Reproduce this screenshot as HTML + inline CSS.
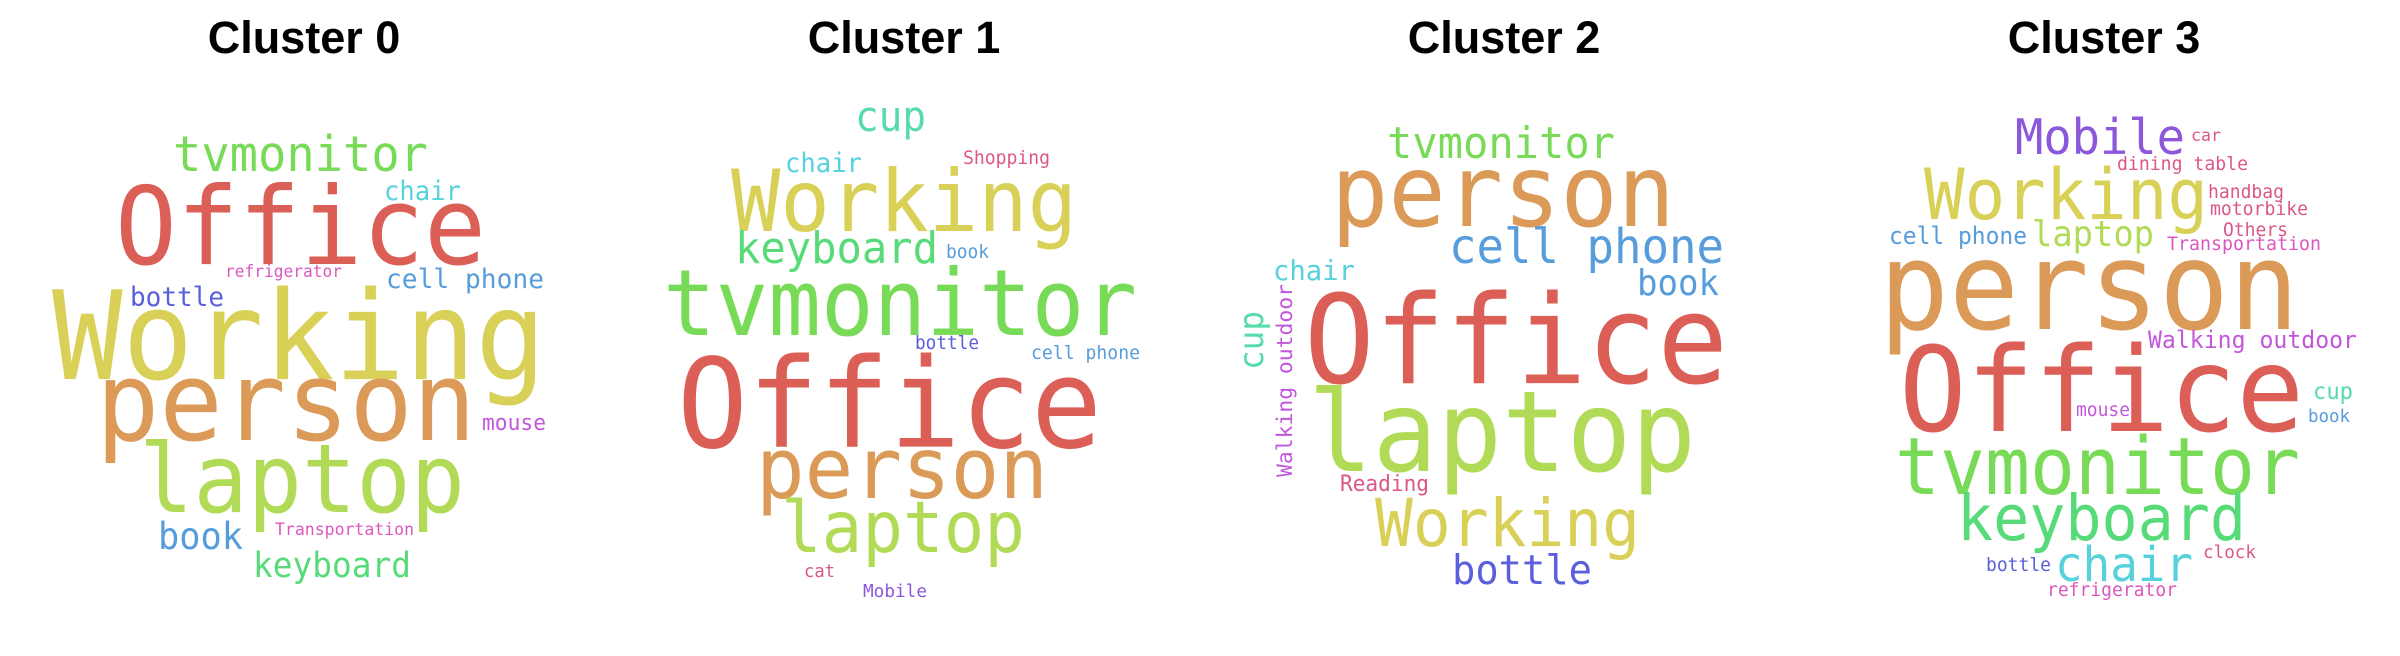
<!DOCTYPE html>
<html><head><meta charset="utf-8"><style>
html,body{margin:0;padding:0;background:#fff;}
svg{display:block;}
.t{font-family:"Liberation Sans",Arial,sans-serif;font-weight:bold;font-size:45px;fill:#000;text-anchor:middle;}
.w{font-family:"DejaVu Sans Mono","Liberation Mono",monospace;}
</style></head><body>
<svg width="2400" height="656" viewBox="0 0 2400 656" xmlns="http://www.w3.org/2000/svg">
<text class="t" x="304" y="53">Cluster 0</text>
<text class="t" x="904" y="53">Cluster 1</text>
<text class="t" x="1504" y="53">Cluster 2</text>
<text class="t" x="2104" y="53">Cluster 3</text>

<g class="w" transform="translate(0,0)">
<text x="173" y="171" font-size="49" fill="#78db57" textLength="255" lengthAdjust="spacingAndGlyphs">tvmonitor</text>
<text x="115" y="264" font-size="108" fill="#dc5f57" textLength="371" lengthAdjust="spacingAndGlyphs">Office</text>
<text x="384" y="200" font-size="27" fill="#57d1db" textLength="77" lengthAdjust="spacingAndGlyphs">chair</text>
<text x="225" y="277" font-size="17" fill="#db57bf" textLength="117" lengthAdjust="spacingAndGlyphs">refrigerator</text>
<text x="386" y="288" font-size="27" fill="#579cdb" textLength="158" lengthAdjust="spacingAndGlyphs">cell phone</text>
<text x="130" y="306" font-size="27" fill="#5b5fdb" textLength="94" lengthAdjust="spacingAndGlyphs">bottle</text>
<text x="52" y="379" font-size="123" fill="#d9d057" textLength="494" lengthAdjust="spacingAndGlyphs">Working</text>
<text x="96" y="440" font-size="110" fill="#db9a57" textLength="380" lengthAdjust="spacingAndGlyphs">person</text>
<text x="482" y="430" font-size="22" fill="#c257db" textLength="64" lengthAdjust="spacingAndGlyphs">mouse</text>
<text x="139" y="512" font-size="95" fill="#b1db57" textLength="326" lengthAdjust="spacingAndGlyphs">laptop</text>
<text x="275" y="535" font-size="17" fill="#db57bf" textLength="139" lengthAdjust="spacingAndGlyphs">Transportation</text>
<text x="158" y="549" font-size="37" fill="#579cdb" textLength="85" lengthAdjust="spacingAndGlyphs">book</text>
<text x="253" y="577" font-size="35" fill="#57db78" textLength="158" lengthAdjust="spacingAndGlyphs">keyboard</text>
</g>

<g class="w" transform="translate(600,0)">
<text x="255" y="131" font-size="42" fill="#57dbaa" textLength="71" lengthAdjust="spacingAndGlyphs">cup</text>
<text x="185" y="172" font-size="27" fill="#57d1db" textLength="77" lengthAdjust="spacingAndGlyphs">chair</text>
<text x="363" y="164" font-size="19" fill="#db578a" textLength="87" lengthAdjust="spacingAndGlyphs">Shopping</text>
<text x="131" y="231" font-size="86" fill="#d9d057" textLength="346" lengthAdjust="spacingAndGlyphs">Working</text>
<text x="135" y="263" font-size="44" fill="#57db78" textLength="203" lengthAdjust="spacingAndGlyphs">keyboard</text>
<text x="346" y="258" font-size="19" fill="#579cdb" textLength="43" lengthAdjust="spacingAndGlyphs">book</text>
<text x="63" y="335" font-size="92" fill="#78db57" textLength="474" lengthAdjust="spacingAndGlyphs">tvmonitor</text>
<text x="315" y="349" font-size="19" fill="#5b5fdb" textLength="64" lengthAdjust="spacingAndGlyphs">bottle</text>
<text x="431" y="359" font-size="19" fill="#579cdb" textLength="109" lengthAdjust="spacingAndGlyphs">cell phone</text>
<text x="77" y="447" font-size="124" fill="#dc5f57" textLength="425" lengthAdjust="spacingAndGlyphs">Office</text>
<text x="156" y="498" font-size="85" fill="#db9a57" textLength="292" lengthAdjust="spacingAndGlyphs">person</text>
<text x="181" y="552" font-size="71" fill="#b1db57" textLength="244" lengthAdjust="spacingAndGlyphs">laptop</text>
<text x="204" y="577" font-size="18" fill="#db578a" textLength="31" lengthAdjust="spacingAndGlyphs">cat</text>
<text x="263" y="597" font-size="18" fill="#8b57db" textLength="64" lengthAdjust="spacingAndGlyphs">Mobile</text>
</g>

<g class="w" transform="translate(1200,0)">
<text x="187" y="158" font-size="44" fill="#78db57" textLength="228" lengthAdjust="spacingAndGlyphs">tvmonitor</text>
<text x="131" y="226" font-size="100" fill="#db9a57" textLength="344" lengthAdjust="spacingAndGlyphs">person</text>
<text x="249" y="263" font-size="48" fill="#579cdb" textLength="275" lengthAdjust="spacingAndGlyphs">cell phone</text>
<text x="73" y="280" font-size="28" fill="#57d1db" textLength="82" lengthAdjust="spacingAndGlyphs">chair</text>
<text x="437" y="295" font-size="36" fill="#579cdb" textLength="82" lengthAdjust="spacingAndGlyphs">book</text>
<text x="104" y="383" font-size="123" fill="#dc5f57" textLength="424" lengthAdjust="spacingAndGlyphs">Office</text>
<text transform="translate(63,370) rotate(-90)" font-size="34" fill="#57dbaa" textLength="59" lengthAdjust="spacingAndGlyphs">cup</text>
<text transform="translate(92,477) rotate(-90)" font-size="21" fill="#c257db" textLength="193" lengthAdjust="spacingAndGlyphs">Walking outdoor</text>
<text x="108" y="471" font-size="112" fill="#b1db57" textLength="388" lengthAdjust="spacingAndGlyphs">laptop</text>
<text x="140" y="491" font-size="22" fill="#db578a" textLength="89" lengthAdjust="spacingAndGlyphs">Reading</text>
<text x="175" y="546" font-size="66" fill="#d9d057" textLength="265" lengthAdjust="spacingAndGlyphs">Working</text>
<text x="252" y="584" font-size="41" fill="#5b5fdb" textLength="140" lengthAdjust="spacingAndGlyphs">bottle</text>
</g>

<g class="w" transform="translate(1800,0)">
<text x="215" y="154" font-size="49" fill="#8b57db" textLength="170" lengthAdjust="spacingAndGlyphs">Mobile</text>
<text x="391" y="141" font-size="17" fill="#db578a" textLength="30" lengthAdjust="spacingAndGlyphs">car</text>
<text x="317" y="170" font-size="19" fill="#db578a" textLength="131" lengthAdjust="spacingAndGlyphs">dining table</text>
<text x="124" y="219" font-size="70" fill="#d9d057" textLength="284" lengthAdjust="spacingAndGlyphs">Working</text>
<text x="408" y="198" font-size="19" fill="#db578a" textLength="76" lengthAdjust="spacingAndGlyphs">handbag</text>
<text x="410" y="215" font-size="19" fill="#db578a" textLength="98" lengthAdjust="spacingAndGlyphs">motorbike</text>
<text x="423" y="236" font-size="19" fill="#db578a" textLength="65" lengthAdjust="spacingAndGlyphs">Others</text>
<text x="367" y="250" font-size="19" fill="#db57bf" textLength="154" lengthAdjust="spacingAndGlyphs">Transportation</text>
<text x="89" y="244" font-size="24" fill="#579cdb" textLength="138" lengthAdjust="spacingAndGlyphs">cell phone</text>
<text x="232" y="246" font-size="36" fill="#b1db57" textLength="122" lengthAdjust="spacingAndGlyphs">laptop</text>
<text x="79" y="329" font-size="122" fill="#db9a57" textLength="420" lengthAdjust="spacingAndGlyphs">person</text>
<text x="348" y="348" font-size="24" fill="#c257db" textLength="209" lengthAdjust="spacingAndGlyphs">Walking outdoor</text>
<text x="99" y="431" font-size="118" fill="#dc5f57" textLength="405" lengthAdjust="spacingAndGlyphs">Office</text>
<text x="513" y="399" font-size="23" fill="#57dbaa" textLength="40" lengthAdjust="spacingAndGlyphs">cup</text>
<text x="276" y="416" font-size="19" fill="#c257db" textLength="54" lengthAdjust="spacingAndGlyphs">mouse</text>
<text x="508" y="422" font-size="18" fill="#579cdb" textLength="42" lengthAdjust="spacingAndGlyphs">book</text>
<text x="95" y="494" font-size="79" fill="#78db57" textLength="405" lengthAdjust="spacingAndGlyphs">tvmonitor</text>
<text x="157" y="540" font-size="63" fill="#57db78" textLength="289" lengthAdjust="spacingAndGlyphs">keyboard</text>
<text x="255" y="581" font-size="48" fill="#57d1db" textLength="138" lengthAdjust="spacingAndGlyphs">chair</text>
<text x="403" y="558" font-size="18" fill="#db578a" textLength="53" lengthAdjust="spacingAndGlyphs">clock</text>
<text x="186" y="571" font-size="19" fill="#5b5fdb" textLength="65" lengthAdjust="spacingAndGlyphs">bottle</text>
<text x="247" y="596" font-size="19" fill="#db57bf" textLength="130" lengthAdjust="spacingAndGlyphs">refrigerator</text>
</g>
</svg>
</body></html>
